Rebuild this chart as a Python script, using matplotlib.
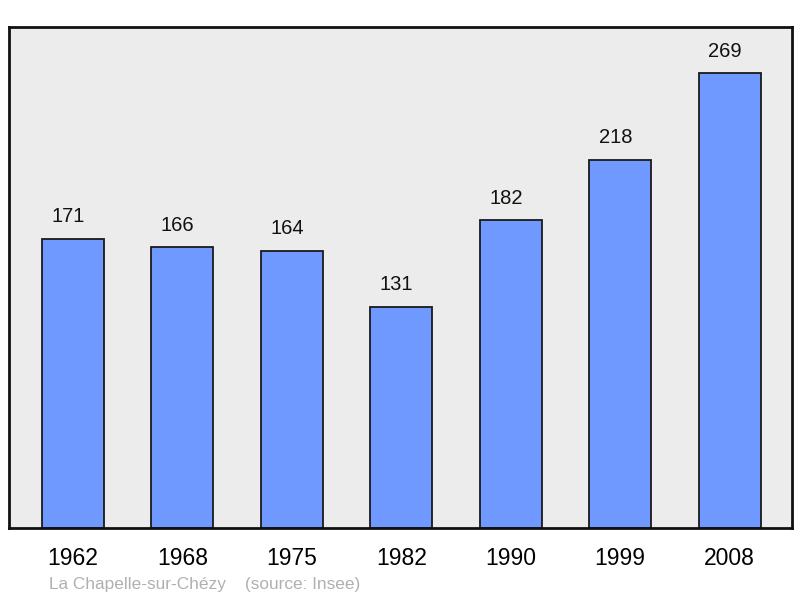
import matplotlib
matplotlib.use("Agg")
import matplotlib.pyplot as plt

years = ["1962", "1968", "1975", "1982", "1990", "1999", "2008"]
population = [171, 166, 164, 131, 182, 218, 269]
footer = "La Chapelle-sur-Chézy    (source: Insee)"

plt.rcParams['font.family'] = ['Liberation Sans', 'DejaVu Sans']

fig = plt.figure(figsize=(8, 5.98), dpi=100)
ax = fig.add_axes([9/800, 1-528/598, (792-9)/800, (528-27)/598])
ax.set_facecolor('#ececec')
x = list(range(len(years)))
ax.bar(x, population, width=0.567, color='#7099ff', edgecolor='#1a1a1a', linewidth=1.3, zorder=2)
for xi, v in zip(x, population):
    ax.annotate(str(v), (xi, v), xytext=(-3.5, 9), textcoords='offset points',
                ha='center', va='bottom', fontsize=14.5, color='#111111')
ax.set_xlim(-0.585, 6.57)
ax.set_ylim(0, 296.4)
ax.set_xticks(x)
ax.set_xticklabels(years, fontsize=16.5)
ax.tick_params(axis='x', length=0, pad=14)
ax.set_yticks([])
for s in ax.spines.values():
    s.set_linewidth(2)
    s.set_color('#111111')
fig.text(49/800, 1-584/598, footer, fontsize=12.4, color='#b0b0b0', ha='left', va='center')
fig.savefig('out.png', dpi=100)
